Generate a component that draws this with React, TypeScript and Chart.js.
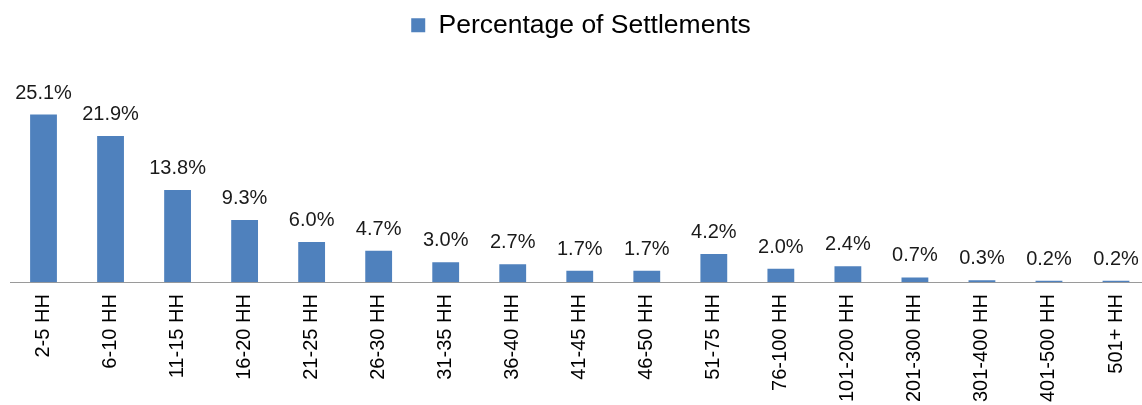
import React, { useEffect, useRef } from "react";
import { Chart, registerables } from "chart.js";

Chart.register(...registerables);

const categories = [
  "2-5 HH", "6-10 HH", "11-15 HH", "16-20 HH", "21-25 HH", "26-30 HH",
  "31-35 HH", "36-40 HH", "41-45 HH", "46-50 HH", "51-75 HH", "76-100 HH",
  "101-200 HH", "201-300 HH", "301-400 HH", "401-500 HH", "501+ HH",
];
const percentages = [25.1, 21.9, 13.8, 9.3, 6.0, 4.7, 3.0, 2.7, 1.7, 1.7, 4.2, 2.0, 2.4, 0.7, 0.3, 0.2, 0.2];
const seriesName = "Percentage of Settlements";

const FONT = "'Liberation Sans', Arial, sans-serif";
const CANVAS_W = 1152;
const CANVAS_H = 414;

const valueLabels = {
  id: "valueLabels",
  afterDatasetsDraw(chart: any) {
    const ctx = chart.ctx;
    const meta = chart.getDatasetMeta(0);
    ctx.save();
    ctx.font = `20px ${FONT}`;
    ctx.fillStyle = "#1a1a1a";
    ctx.textAlign = "center";
    ctx.textBaseline = "alphabetic";
    meta.data.forEach((bar: any, i: number) => {
      const v = chart.data.datasets[0].data[i] as number;
      ctx.fillText(v.toFixed(1) + "%", bar.x, bar.y - 16);
    });
    ctx.restore();
  },
};

export default function App() {
  const ref = useRef<HTMLCanvasElement>(null);
  useEffect(() => {
    if (!ref.current) return;
    const chart = new Chart(ref.current, {
      type: "bar",
      data: {
        labels: categories,
        datasets: [
          {
            label: seriesName,
            data: percentages,
            backgroundColor: "#4F81BD",
            borderWidth: 0,
            categoryPercentage: 1,
            barPercentage: 0.4,
          },
        ],
      },
      options: {
        responsive: false,
        animation: false,
        devicePixelRatio: 1,
        layout: { padding: { left: 10, right: 0, top: 0, bottom: 0 } },
        plugins: {
          legend: {
            display: true,
            position: "top",
            labels: {
              boxWidth: 14,
              boxHeight: 14,
              padding: 12,
              color: "#000",
              font: { family: FONT, size: 26.5 },
            },
          },
          tooltip: { enabled: false },
        },
        scales: {
          x: {
            grid: { display: false, drawTicks: false },
            border: { display: true, color: "#9a9a9a", width: 1 },
            ticks: {
              autoSkip: false,
              minRotation: 90,
              maxRotation: 90,
              padding: 12,
              color: "#000",
              font: { family: FONT, size: 20 },
            },
          },
          y: {
            display: false,
            min: 0,
            max: 35,
          },
        },
      },
      plugins: [valueLabels],
    });
    return () => chart.destroy();
  }, []);
  return (
    <div style={{ position: "fixed", left: 0, top: 0, width: 1142, height: 405, overflow: "hidden", background: "#fff" }}>
      <canvas ref={ref} width={CANVAS_W} height={CANVAS_H} style={{ display: "block", width: CANVAS_W, height: CANVAS_H }} />
    </div>
  );
}
